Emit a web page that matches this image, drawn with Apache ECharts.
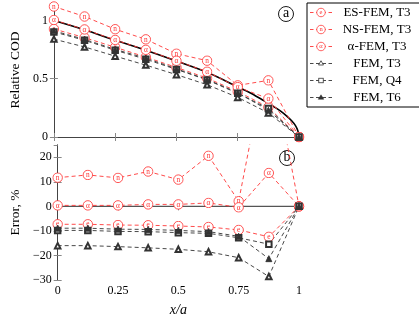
<!DOCTYPE html>
<html><head><meta charset="utf-8">
<script src="https://cdn.jsdelivr.net/npm/echarts@6/dist/echarts.min.js"></script>
<style>html,body{margin:0;padding:0;background:#fff}#c{width:419px;height:319px}</style>
</head><body><div id="c"></div>
<script>
// x positions (x/a)
const xVals = [0, 0.125, 0.25, 0.375, 0.5, 0.625, 0.75, 0.875, 1];
const xTicks = [0, 0.25, 0.5, 0.75, 1];
const seriesNames = ['ES-FEM, T3', 'NS-FEM, T3', 'α-FEM, T3', 'FEM, T3', 'FEM, Q4', 'FEM, T6'];

// exact solution curve (relative COD)
const exactX = [0, 0.125, 0.25, 0.375, 0.5, 0.625, 0.75, 0.8, 0.85, 0.875, 0.9, 0.925, 0.95, 0.97, 0.985, 0.995, 1];
const exactY = [1.0, 0.92, 0.83, 0.745, 0.652, 0.555, 0.43, 0.38, 0.32, 0.29, 0.257, 0.222, 0.18, 0.14, 0.1, 0.055, 0];

// top panel: relative COD
const codES    = [0.927, 0.853, 0.770, 0.686, 0.597, 0.505, 0.390, 0.255, 0];
const codNS    = [1.12, 1.034, 0.925, 0.838, 0.715, 0.655, 0.443, 0.486, 0];
const codAlpha = [1.004, 0.923, 0.833, 0.748, 0.654, 0.560, 0.428, 0.330, 0];
const codT3    = [0.840, 0.773, 0.694, 0.617, 0.535, 0.449, 0.340, 0.207, 0];
const codQ4    = [0.902, 0.830, 0.745, 0.667, 0.580, 0.490, 0.375, 0.245, 0];
const codT6    = [0.911, 0.838, 0.752, 0.677, 0.585, 0.494, 0.380, 0.230, 0];

// bottom panel: error, %
const errES    = [-7.3, -7.3, -7.6, -7.7, -8.0, -8.4, -9.6, -12.4, 0];
const errNS    = [11.7, 12.8, 11.6, 14.2, 10.9, 20.6, 2.1, 65, 0];
const errAlpha = [0.4, 0.4, 0.4, 0.8, 0.8, 1.4, -0.4, 13.6, 0];
const errT3    = [-16, -16, -16.4, -16.9, -17.5, -18.5, -20.9, -28.6, 0];
const errQ4    = [-9.8, -9.8, -10.2, -10.3, -10.7, -11.0, -12.8, -15.4, 0];
const errT6    = [-8.9, -8.9, -9.3, -9.4, -9.8, -10.3, -12.2, -21.3, 0];

const RED = '#ff3535';
const DARK = '#333';
const FONT = 'Liberation Serif';

const svgUri = s => 'image://data:image/svg+xml;charset=utf-8,' + encodeURIComponent(s);
function circledSvg(letter, cx, cy, r, fs) {
  return "<circle cx='" + cx + "' cy='" + cy + "' r='" + r + "' fill='white' stroke='" + RED + "' stroke-width='" + (r * 0.18) + "'/>" +
    "<text x='" + cx + "' y='" + (cy + fs * 0.3) + "' text-anchor='middle' font-family='Liberation Serif' font-size='" + fs + "' fill='" + RED + "'>" + letter + "</text>";
}
function circled(letter) {
  return svgUri("<svg xmlns='http://www.w3.org/2000/svg' width='24' height='24'>" + circledSvg(letter, 12, 12, 10.3, 16) + "</svg>");
}
// legend icons: "- marker -"
function legendIcon(kind, letter) {
  const col = kind === 'red' ? RED : DARK;
  let s = "<svg xmlns='http://www.w3.org/2000/svg' width='48' height='24'>" +
    "<line x1='2' y1='12' x2='9' y2='12' stroke='" + col + "' stroke-width='1.8'/>" +
    "<line x1='39' y1='12' x2='46' y2='12' stroke='" + col + "' stroke-width='1.8'/>" +
    "<line x1='14' y1='12' x2='34' y2='12' stroke='" + col + "' stroke-width='1.8'/>";
  if (kind === 'red') s += circledSvg(letter, 24, 12, 8.5, 13);
  else if (letter === 'T3') s += "<polygon points='24,6.5 29,15 19,15' fill='white' stroke='" + DARK + "' stroke-width='1.6'/>";
  else if (letter === 'Q4') s += "<rect x='19.5' y='7.5' width='9' height='9' fill='white' stroke='" + DARK + "' stroke-width='1.6'/>";
  else s += "<polygon points='24,6.5 29.5,15.5 18.5,15.5' fill='" + DARK + "' stroke='" + DARK + "' stroke-width='1'/>";
  return svgUri(s + "</svg>");
}
const legendIcons = [legendIcon('red', 'e'), legendIcon('red', 'n'), legendIcon('red', 'α'),
  legendIcon('dark', 'T3'), legendIcon('dark', 'Q4'), legendIcon('dark', 'T6')];

const pair = (xs, ys) => xs.map((x, i) => [x, ys[i]]);

const styles = [
  {symbol: circled('e'), symbolSize: 11, color: RED},
  {symbol: circled('n'), symbolSize: 11, color: RED},
  {symbol: circled('α'), symbolSize: 11, color: RED},
  {symbol: 'emptyTriangle', symbolSize: 5.5, color: DARK},
  {symbol: 'emptyRect', symbolSize: 5.5, color: DARK},
  {symbol: 'triangle', symbolSize: 6, color: DARK}
];
const topData = [codES, codNS, codAlpha, codT3, codQ4, codT6];
const botData = [errES, errNS, errAlpha, errT3, errQ4, errT6];

function mkSeries(name, data, st, xi, yi) {
  return {
    name: name, type: 'line', xAxisIndex: xi, yAxisIndex: yi,
    data: pair(xVals, data), symbol: st.symbol, symbolSize: st.symbolSize,
    showAllSymbol: true, clip: true, animation: false,
    itemStyle: {color: st.color, borderColor: st.color, borderWidth: 0.9},
    lineStyle: {color: st.color, width: 0.9, type: [4, 3]}
  };
}

const series = [];
series.push({
  name: 'exact', type: 'line', xAxisIndex: 0, yAxisIndex: 0,
  data: pair(exactX, exactY), symbol: 'none', smooth: 0.3, animation: false,
  lineStyle: {color: '#000', width: 1.6}
});
series.push({
  name: 'zero', type: 'line', xAxisIndex: 2, yAxisIndex: 2,
  data: [[0, 0], [1, 0]], symbol: 'none', animation: false,
  lineStyle: {color: '#555', width: 1.1}
});
seriesNames.forEach((n, i) => series.push(mkSeries(n, topData[i], styles[i], 0, 0)));
seriesNames.forEach((n, i) => series.push(mkSeries(n, botData[i], styles[i], 2, 2)));

const axLine = {show: true, lineStyle: {color: '#444', width: 1}};
const tick = {show: true, inside: true, length: 4, lineStyle: {color: '#888'}};
const labelStyle = {fontFamily: FONT, fontSize: 12, color: '#000'};
const minusFmt = v => String(v).replace('-', '\u2212');

function xAx(grid, pos, labels, extra) {
  return Object.assign({
    type: 'value', gridIndex: grid, position: pos, min: 0, max: 1, interval: 0.25,
    axisLine: axLine, axisTick: tick, splitLine: {show: false},
    axisLabel: Object.assign({show: labels, margin: 5, formatter: v => String(v)}, labelStyle)
  }, extra || {});
}
function yAx(grid, pos, min, max, iv, labels, extra) {
  return Object.assign({
    type: 'value', gridIndex: grid, position: pos, min: min, max: max, interval: iv,
    axisLine: axLine, axisTick: tick, splitLine: {show: false},
    axisLabel: Object.assign({show: labels, margin: 6, showMaxLabel: false, formatter: minusFmt}, labelStyle)
  }, extra || {});
}

const option = {
  backgroundColor: '#fff',
  animation: false,
  grid: [
    {left: 46, top: 3, width: 253, height: 134, show: false},
    {left: 46, top: 145, width: 253, height: 135, show: false}
  ],
  xAxis: [
    xAx(0, 'bottom', false),
    xAx(0, 'top', false),
    xAx(1, 'bottom', true, {name: 'x/a', nameLocation: 'middle', nameGap: 23,
      nameTextStyle: {fontFamily: FONT, fontSize: 14, fontStyle: 'italic', color: '#000'}}),
    xAx(1, 'top', false)
  ],
  yAxis: [
    yAx(0, 'left', 0, 1.15, 0.5, true, {name: 'Relative COD', nameLocation: 'middle', nameGap: 31,
      nameTextStyle: {fontFamily: FONT, fontSize: 13.5, color: '#000'}}),
    yAx(0, 'right', 0, 1.15, 0.5, false),
    yAx(1, 'left', -30, 25, 10, true, {name: 'Error, %', nameLocation: 'middle', nameGap: 31,
      nameTextStyle: {fontFamily: FONT, fontSize: 13.5, color: '#000'}}),
    yAx(1, 'right', -30, 25, 10, false)
  ],
  legend: {
    data: seriesNames.map((n, i) => ({name: n, icon: legendIcons[i]})),
    orient: 'vertical', left: 307, top: 3,
    backgroundColor: '#fff', borderColor: '#000', borderWidth: 1,
    padding: [3, 4, 3, 2], itemWidth: 24, itemHeight: 12, itemGap: 4,
    formatter: n => '{c|' + n + '}',
    textStyle: {fontFamily: FONT, fontSize: 13, color: '#000',
      rich: {c: {width: 78, align: 'center', fontFamily: FONT, fontSize: 13, lineHeight: 12}}}
  },
  graphic: [
    {type: 'circle', shape: {cx: 286, cy: 14, r: 7.5}, style: {fill: '#fff', stroke: '#000', lineWidth: 0.9}},
    {type: 'text', x: 286, y: 13.5, style: {text: 'a', fontFamily: FONT, fontSize: 14, fill: '#000', align: 'center', verticalAlign: 'middle'}},
    {type: 'circle', shape: {cx: 287, cy: 158, r: 7.5}, style: {fill: '#fff', stroke: '#000', lineWidth: 0.9}},
    {type: 'text', x: 287, y: 157.5, style: {text: 'b', fontFamily: FONT, fontSize: 14, fill: '#000', align: 'center', verticalAlign: 'middle'}}
  ],
  series: series
};
const chart = echarts.init(document.getElementById('c'), null, {renderer: 'canvas'});
chart.setOption(option);
</script></body></html>
